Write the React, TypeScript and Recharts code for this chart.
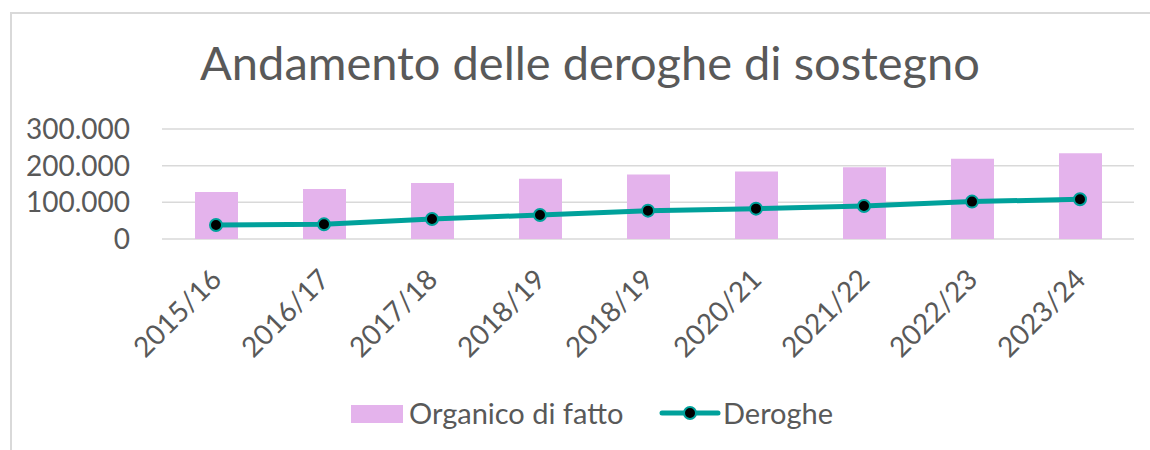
import { ComposedChart, Bar, Line, XAxis, YAxis, CartesianGrid } from 'recharts';

const years = ['2015/16', '2016/17', '2017/18', '2018/19', '2018/19', '2020/21', '2021/22', '2022/23', '2023/24'];
const organicoDiFatto = [128400, 136600, 153000, 164000, 175700, 184000, 196000, 218600, 234000];
const deroghe = [38300, 40000, 54600, 65600, 77300, 82800, 90000, 102000, 108500];
const yTicks = [0, 100000, 200000, 300000];

const data = years.map((year, i) => ({
  year,
  organico: organicoDiFatto[i],
  deroghe: deroghe[i],
}));

const TEXT = '#595959';
const PINK = '#E4B3EC';
const TEAL = '#00A19B';
const FONT = 'Lato, "Open Sans", sans-serif';

const formatThousands = (v: number) =>
  String(v).replace(/\B(?=(\d{3})+(?!\d))/g, '.');

function YearTick(props: any) {
  const { x, y, payload } = props;
  return (
    <g transform={`translate(${x},${y + 35})`}>
      <text
        x={0}
        y={0}
        dy="0.36em"
        transform="rotate(-45)"
        textAnchor="end"
        fill={TEXT}
        fontSize={28}
        fontFamily={FONT}
      >
        {payload.value}
      </text>
    </g>
  );
}

export default function App() {
  return (
    <div style={{ position: 'absolute', left: 0, top: 0, width: 1150, height: 450, background: '#fff' }}>
      {/* chart frame, cut off on the right and bottom */}
      <div
        style={{
          position: 'absolute',
          left: 10,
          top: 12,
          width: 1150,
          height: 450,
          borderTop: '2px solid #d9d9d9',
          borderLeft: '2px solid #d9d9d9',
          boxSizing: 'border-box',
        }}
      />
      <div style={{ position: 'absolute', left: 0, top: 0 }}>
        <ComposedChart
          width={1150}
          height={450}
          data={data}
          margin={{ top: 129, right: 16, bottom: 0, left: 22 }}
          barCategoryGap="30%"
        >
          <CartesianGrid vertical={false} stroke="#d9d9d9" strokeWidth={1.5} />
          <XAxis
            dataKey="year"
            height={211}
            interval={0}
            axisLine={false}
            tickLine={false}
            tickSize={0}
            tickMargin={0}
            tick={<YearTick />}
          />
          <YAxis
            width={140}
            domain={[0, 300000]}
            ticks={yTicks}
            interval={0}
            axisLine={false}
            tickLine={false}
            tickSize={0}
            tickMargin={32}
            tickFormatter={formatThousands}
            tick={{ fill: TEXT, fontSize: 28, fontFamily: FONT }}
          />
          <Bar dataKey="organico" name="Organico di fatto" fill={PINK} barSize={43} isAnimationActive={false} />
          <Line
            dataKey="deroghe"
            name="Deroghe"
            type="linear"
            stroke={TEAL}
            strokeWidth={5}
            dot={{ r: 6, fill: '#000', stroke: TEAL, strokeWidth: 2 }}
            isAnimationActive={false}
          />
        </ComposedChart>
      </div>
      <svg
        width={1150}
        height={450}
        style={{ position: 'absolute', left: 0, top: 0, pointerEvents: 'none' }}
      >
        <text x={590} y={80} textAnchor="middle" fill={TEXT} fontSize={47} fontFamily={FONT}>
          Andamento delle deroghe di sostegno
        </text>
        <rect x={351} y={405} width={52} height={18} fill={PINK} />
        <text x={409} y={424} fill={TEXT} fontSize={29} fontFamily={FONT}>
          Organico di fatto
        </text>
        <line x1={662} y1={413} x2={718} y2={413} stroke={TEAL} strokeWidth={5} strokeLinecap="round" />
        <circle cx={690} cy={413} r={6} fill="#000" stroke={TEAL} strokeWidth={2} />
        <text x={723} y={424} fill={TEXT} fontSize={29} fontFamily={FONT}>
          Deroghe
        </text>
      </svg>
    </div>
  );
}
